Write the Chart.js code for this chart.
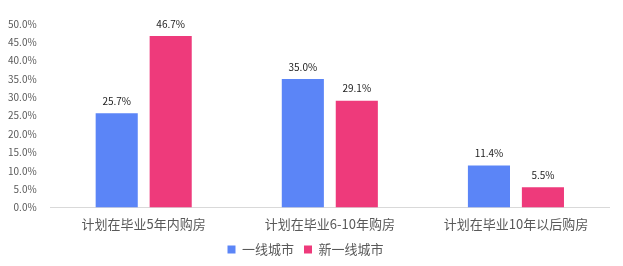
<!DOCTYPE html>
<html lang="zh">
<head>
<meta charset="UTF-8">
<title>购房计划</title>
<script src="https://cdn.jsdelivr.net/npm/chart.js"></script>
<style>
  body { margin: 0; background: #fff; }
</style>
</head>
<body>
<canvas id="myChart" width="623" height="266"></canvas>
<script>
  // 数据
  const categories = ['计划在毕业5年内购房', '计划在毕业6-10年购房', '计划在毕业10年以后购房'];
  const tier1 = [25.7, 35.0, 11.4];
  const newTier1 = [46.7, 29.1, 5.5];
  const seriesNames = ['一线城市', '新一线城市'];

  const fontFamily = '"Noto Sans CJK SC", "Liberation Sans", sans-serif';

  // 柱子上方的数值标签
  const valueLabels = {
    id: 'valueLabels',
    afterDatasetsDraw(chart) {
      const ctx = chart.ctx;
      ctx.save();
      ctx.font = '10px ' + fontFamily;
      ctx.fillStyle = '#222';
      ctx.textAlign = 'center';
      ctx.textBaseline = 'bottom';
      chart.data.datasets.forEach((ds, i) => {
        chart.getDatasetMeta(i).data.forEach((bar, j) => {
          ctx.fillText(ds.data[j].toFixed(1) + '%', bar.x, bar.y - 7);
        });
      });
      ctx.restore();
    }
  };

  const ctx = document.getElementById('myChart').getContext('2d');
  new Chart(ctx, {
    type: 'bar',
    data: {
      labels: categories,
      datasets: [
        { label: seriesNames[0], data: tier1, backgroundColor: '#5b85f7',
          categoryPercentage: 0.58, barPercentage: 0.78 },
        { label: seriesNames[1], data: newTier1, backgroundColor: '#ee3a7b',
          categoryPercentage: 0.58, barPercentage: 0.78 }
      ]
    },
    options: {
      responsive: false,
      animation: false,
      layout: { padding: { top: 24, right: 14, left: 2, bottom: 0 } },
      plugins: {
        legend: {
          position: 'bottom',
          labels: { boxWidth: 8, boxHeight: 8, padding: 10,
                    color: '#595959', font: { size: 13, family: fontFamily } }
        },
        tooltip: { enabled: false }
      },
      scales: {
        x: {
          grid: { display: false },
          border: { color: '#d9d9d9' },
          ticks: { color: '#595959', font: { size: 13, family: fontFamily }, padding: 1 }
        },
        y: {
          min: 0, max: 50,
          grid: { display: false },
          border: { display: false },
          ticks: { stepSize: 5, color: '#595959', padding: 6,
                   font: { size: 10, family: fontFamily },
                   callback: v => v.toFixed(1) + '%' }
        }
      }
    },
    plugins: [valueLabels]
  });
</script>
</body>
</html>
